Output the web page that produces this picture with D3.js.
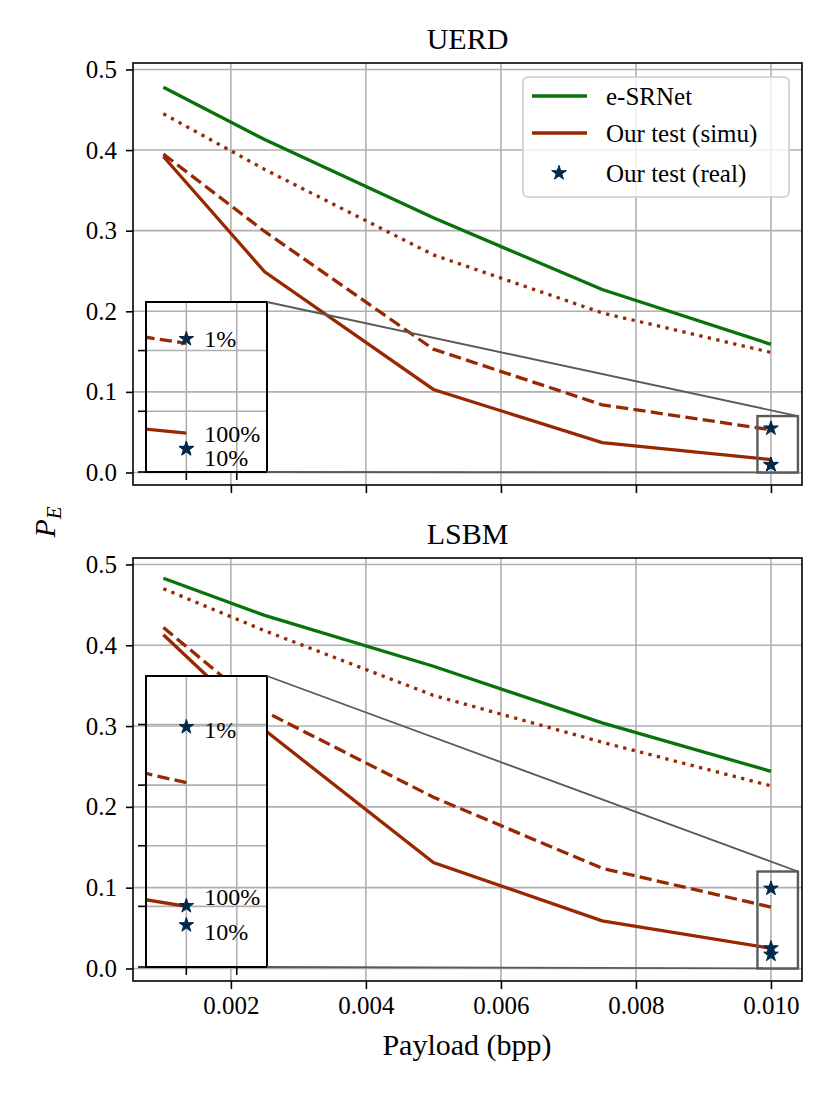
<!DOCTYPE html>
<html>
<head>
<meta charset="utf-8">
<script src="https://cdn.jsdelivr.net/npm/d3@7"></script>
<style>
    body { margin: 0; background: #fff; }
    text { font-family: "Liberation Serif", serif; fill: #000; }
</style>
</head>
<body>
<div id="container"></div>
<script>
// payload (bpp) of each simulated point
let payload = [0.001, 0.0025, 0.005, 0.0075, 0.010];

// UERD panel
let uerdESRNet = [0.478, 0.413, 0.316, 0.227, 0.159];
let uerdDotted = [0.445, 0.376, 0.270, 0.198, 0.149];
let uerdDashed = [0.395, 0.299, 0.153, 0.084, 0.053];
let uerdSolid  = [0.392, 0.249, 0.103, 0.037, 0.016];
let uerdReal   = [0.0548, 0.0096, 0.0095];
let uerdLabelY = [0.0548, 0.016, 0.0058];

// LSBM panel
let lsbmESRNet = [0.483, 0.437, 0.374, 0.304, 0.244];
let lsbmDotted = [0.470, 0.418, 0.338, 0.280, 0.226];
let lsbmDashed = [0.422, 0.318, 0.212, 0.124, 0.076];
let lsbmSolid  = [0.413, 0.295, 0.131, 0.059, 0.025];
let lsbmReal   = [0.099, 0.0252, 0.0173];
let lsbmLabelY = [0.098, 0.029, 0.0148];

let realPayload = 0.010;
let realLabels = ["1%", "100%", "10%"];

let xTicks = [0.002, 0.004, 0.006, 0.008, 0.010];
let yTicks = [0.0, 0.1, 0.2, 0.3, 0.4, 0.5];
let insetXTicks = [0.0100, 0.01025];
let legendLabels = ["e-SRNet", "Our test (simu)", "Our test (real)"];

let green = "#0a720a",
    red = "#982800",
    navy = "#002a4d",
    gridColor = "#b0b0b0",
    zoomColor = "#5a5a5a",
    lineWidth = 3.3;

let svg = d3.select("#container").append("svg")
    .attr("width", 830)
    .attr("height", 1107);

let defs = svg.append("defs");
let clipCount = 0;

function Panel(options) {
    let left = 133, right = 802,
        top = options.top, bottom = options.bottom,
        inset = options.inset;

    let x = d3.scaleLinear().domain([0.00055, 0.01046]).range([left, right]);
    let y = d3.scaleLinear().domain([-0.0155, 0.508]).range([bottom, top]);

    let ix = d3.scaleLinear().domain([0.0098, 0.0104]).range([inset.left, inset.right]);
    let iy = d3.scaleLinear().domain([0, inset.ymax]).range([inset.bottom, inset.top]);

    let g = svg.append("g");

    // main grid
    g.selectAll(".xgrid").data(xTicks).enter().append("line")
        .attr("x1", d => x(d)).attr("x2", d => x(d))
        .attr("y1", top).attr("y2", bottom)
        .style("stroke", gridColor).style("stroke-width", 1.6);

    let yGrid = function(sel) {
        sel.selectAll(".ygrid").data(yTicks).enter().append("line")
            .attr("x1", left).attr("x2", right)
            .attr("y1", d => y(d)).attr("y2", d => y(d))
            .style("stroke", gridColor).style("stroke-width", 1.6);
    };
    yGrid(g);

    let series = [
        {values: options.esrnet, color: green, dash: null},
        {values: options.dotted, color: red, dash: "3.3,5.4"},
        {values: options.dashed, color: red, dash: "12.2,5.3"},
        {values: options.solid, color: red, dash: null}
    ];

    let drawLines = function(sel, xs, ys) {
        let line = d3.line().x((d, i) => xs(payload[i])).y(d => ys(d));
        sel.selectAll(".series").data(series).enter().append("path")
            .attr("d", d => line(d.values))
            .style("fill", "none")
            .style("stroke", d => d.color)
            .style("stroke-width", lineWidth)
            .style("stroke-dasharray", d => d.dash);
    };

    let star = d3.symbol().type(d3.symbolStar).size(66);
    let drawStars = function(sel, xs, ys) {
        sel.selectAll(".star").data(options.real).enter().append("path")
            .attr("d", star)
            .attr("transform", d => "translate(" + xs(realPayload) + "," + ys(d) + ")")
            .style("fill", navy)
            .style("stroke", navy)
            .style("stroke-width", 1);
    };

    drawLines(g, x, y);
    drawStars(g, x, y);

    // zoom indicator
    g.append("rect")
        .attr("x", x(0.0098)).attr("y", y(inset.ymax))
        .attr("width", x(0.0104) - x(0.0098))
        .attr("height", y(0) - y(inset.ymax))
        .style("fill", "none")
        .style("stroke", zoomColor)
        .style("stroke-width", 2.4);

    // inset
    let clipId = "clip" + (clipCount++);
    defs.append("clipPath").attr("id", clipId)
        .append("rect")
        .attr("x", inset.left).attr("y", inset.top)
        .attr("width", inset.right - inset.left)
        .attr("height", inset.bottom - inset.top);

    let ig = svg.append("g");
    ig.append("rect")
        .attr("x", inset.left).attr("y", inset.top)
        .attr("width", inset.right - inset.left)
        .attr("height", inset.bottom - inset.top)
        .style("fill", "white");

    let inner = ig.append("g").attr("clip-path", "url(#" + clipId + ")");
    yGrid(inner);

    let iyTicks = d3.range(0, inset.ymax, 0.025);
    inner.selectAll(".ixgrid").data(insetXTicks).enter().append("line")
        .attr("x1", d => ix(d)).attr("x2", d => ix(d))
        .attr("y1", inset.top).attr("y2", inset.bottom)
        .style("stroke", gridColor).style("stroke-width", 1.6);
    inner.selectAll(".iygrid").data(iyTicks).enter().append("line")
        .attr("x1", inset.left).attr("x2", inset.right)
        .attr("y1", d => iy(d)).attr("y2", d => iy(d))
        .style("stroke", gridColor).style("stroke-width", 1.6);

    drawLines(inner, ix, iy);
    drawStars(ig, ix, iy);

    ig.selectAll(".slabel").data(realLabels).enter().append("text")
        .attr("x", ix(realPayload) + 18)
        .attr("y", (d, i) => iy(options.labelY[i]))
        .attr("dy", "0.35em")
        .style("font-size", "24px")
        .text(d => d);

    ig.append("rect")
        .attr("x", inset.left).attr("y", inset.top)
        .attr("width", inset.right - inset.left)
        .attr("height", inset.bottom - inset.top)
        .style("fill", "none")
        .style("stroke", "black")
        .style("stroke-width", 2);

    // inset ticks (no labels)
    ig.selectAll(".ixtick").data(insetXTicks).enter().append("line")
        .attr("x1", d => ix(d)).attr("x2", d => ix(d))
        .attr("y1", inset.bottom).attr("y2", inset.bottom + 8)
        .style("stroke", "black").style("stroke-width", 1.6);
    ig.selectAll(".iytick").data(iyTicks).enter().append("line")
        .attr("x1", inset.left).attr("x2", inset.left - 8)
        .attr("y1", d => iy(d)).attr("y2", d => iy(d))
        .style("stroke", "black").style("stroke-width", 1.6);

    // connectors
    ig.append("line")
        .attr("x1", inset.right).attr("y1", inset.top)
        .attr("x2", x(0.0104)).attr("y2", y(inset.ymax))
        .style("stroke", zoomColor).style("stroke-width", 1.8);
    ig.append("line")
        .attr("x1", inset.right).attr("y1", inset.bottom)
        .attr("x2", x(0.0104)).attr("y2", y(0))
        .style("stroke", zoomColor).style("stroke-width", 1.8);

    // axes
    let ax = svg.append("g");
    ax.append("rect")
        .attr("x", left).attr("y", top)
        .attr("width", right - left).attr("height", bottom - top)
        .style("fill", "none").style("stroke", "black").style("stroke-width", 1.6);

    let xAxis = d3.axisBottom(x).tickValues(xTicks).tickSize(8).tickPadding(7)
        .tickFormat(options.xLabels ? d3.format(".3f") : "");
    ax.append("g")
        .attr("transform", "translate(0," + bottom + ")")
        .call(xAxis)
        .call(s => s.select(".domain").remove())
        .call(s => s.selectAll("line").style("stroke-width", 1.6))
        .call(s => s.selectAll("text").style("font-family", "Liberation Serif").style("font-size", "25px"));

    let yAxis = d3.axisLeft(y).tickValues(yTicks).tickSize(7).tickPadding(9)
        .tickFormat(d3.format(".1f"));
    ax.append("g")
        .attr("transform", "translate(" + left + ",0)")
        .call(yAxis)
        .call(s => s.select(".domain").remove())
        .call(s => s.selectAll("line").style("stroke-width", 1.6))
        .call(s => s.selectAll("text").style("font-family", "Liberation Serif").style("font-size", "25px"));

    ax.append("text")
        .attr("x", (left + right) / 2)
        .attr("y", top - 14)
        .attr("text-anchor", "middle")
        .style("font-size", "30px")
        .text(options.title);

    if (options.legend) {
        let lg = ax.append("g").attr("transform", "translate(523,77)");
        lg.append("rect")
            .attr("width", 266).attr("height", 120)
            .attr("rx", 5)
            .style("fill", "white").style("fill-opacity", 0.8)
            .style("stroke", "#cccccc").style("stroke-width", 1.6);
        let rows = [19, 56, 96];
        lg.append("line").attr("x1", 9).attr("x2", 64).attr("y1", rows[0]).attr("y2", rows[0])
            .style("stroke", green).style("stroke-width", lineWidth);
        lg.append("line").attr("x1", 9).attr("x2", 64).attr("y1", rows[1]).attr("y2", rows[1])
            .style("stroke", red).style("stroke-width", lineWidth);
        lg.append("path").attr("d", star)
            .attr("transform", "translate(36," + rows[2] + ")")
            .style("fill", navy).style("stroke", navy).style("stroke-width", 1);
        lg.selectAll(".ltext").data(legendLabels).enter().append("text")
            .attr("x", 83)
            .attr("y", (d, i) => rows[i])
            .attr("dy", "0.35em")
            .style("font-size", "25px")
            .text(d => d);
    }
}

Panel({
    title: "UERD", top: 63, bottom: 485,
    esrnet: uerdESRNet, dotted: uerdDotted, dashed: uerdDashed, solid: uerdSolid,
    real: uerdReal, labelY: uerdLabelY,
    inset: {left: 146, right: 267, top: 302, bottom: 472, ymax: 0.07},
    legend: true, xLabels: false
});

Panel({
    title: "LSBM", top: 558, bottom: 981,
    esrnet: lsbmESRNet, dotted: lsbmDotted, dashed: lsbmDashed, solid: lsbmSolid,
    real: lsbmReal, labelY: lsbmLabelY,
    inset: {left: 146, right: 267, top: 676, bottom: 967, ymax: 0.12},
    legend: false, xLabels: true
});

svg.append("text")
    .attr("x", 467)
    .attr("y", 1055)
    .attr("text-anchor", "middle")
    .style("font-size", "30px")
    .text("Payload (bpp)");

let ylab = svg.append("text")
    .attr("transform", "translate(55,522) rotate(-90)")
    .attr("text-anchor", "middle")
    .style("font-size", "30px")
    .style("font-style", "italic");
ylab.append("tspan").text("P");
ylab.append("tspan").attr("dy", "0.3em").style("font-size", "21px").text("E");
</script>
</body>
</html>
